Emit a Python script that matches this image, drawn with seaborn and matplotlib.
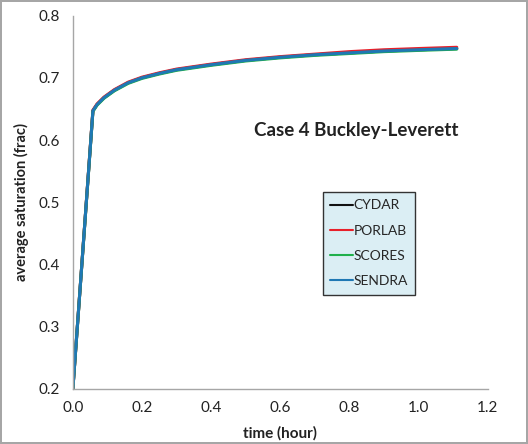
import matplotlib
matplotlib.use("Agg")
import matplotlib.pyplot as plt
import seaborn as sns
import pandas as pd

# time (hour) and average saturation for each simulator
time_h = [0.0, 0.058, 0.07, 0.09, 0.12, 0.16, 0.2, 0.25, 0.3, 0.4, 0.5,
          0.6, 0.7, 0.8, 0.9, 1.0, 1.11]
cydar = [0.2, 0.647, 0.657, 0.668, 0.680, 0.692, 0.700, 0.707, 0.713, 0.721,
         0.728, 0.733, 0.737, 0.740, 0.743, 0.745, 0.747]
porlab = [0.2, 0.648, 0.658, 0.669, 0.681, 0.693, 0.701, 0.708, 0.714, 0.722,
          0.729, 0.734, 0.738, 0.742, 0.745, 0.747, 0.749]
scores = [0.2, 0.646, 0.656, 0.667, 0.679, 0.691, 0.699, 0.706, 0.712, 0.720,
          0.727, 0.732, 0.736, 0.739, 0.742, 0.744, 0.746]
sendra = [0.2, 0.647, 0.657, 0.668, 0.680, 0.692, 0.700, 0.707, 0.713, 0.721,
          0.728, 0.733, 0.737, 0.740, 0.743, 0.745, 0.747]

series = {"CYDAR": cydar, "PORLAB": porlab, "SCORES": scores, "SENDRA": sendra}
colors = {"CYDAR": "#111111", "PORLAB": "#e8202a", "SCORES": "#20b04b", "SENDRA": "#1f78b4"}

df = pd.concat(
    [pd.DataFrame({"time": time_h, "sat": vals, "code": name}) for name, vals in series.items()],
    ignore_index=True,
)

sns.set_style("white")
plt.rcParams["font.family"] = ["Lato", "DejaVu Sans"]

fig = plt.figure(figsize=(5.28, 4.44), dpi=100)
fig.patch.set_edgecolor("#a6a6a6")
fig.patch.set_linewidth(1.5)
ax = fig.add_axes([0.138, 0.124, 0.786, 0.841])

sns.lineplot(data=df, x="time", y="sat", hue="code", palette=colors,
             linewidth=2.2, ax=ax, sort=False)

ax.set_xlim(0, 1.2)
ax.set_ylim(0.2, 0.8)
ax.set_xticks([0.0, 0.2, 0.4, 0.6, 0.8, 1.0, 1.2])
ax.set_xticklabels(["0.0", "0.2", "0.4", "0.6", "0.8", "1.0", "1.2"])
ax.set_yticks([0.2, 0.3, 0.4, 0.5, 0.6, 0.7, 0.8])
ax.set_yticklabels(["0.2", "0.3", "0.4", "0.5", "0.6", "0.7", "0.8"])
ax.tick_params(axis="both", direction="out", length=5, width=1, color="#a6a6a6",
               labelsize=11, labelcolor="#222222", pad=4)
for side in ["top", "right"]:
    ax.spines[side].set_visible(False)
for side in ["left", "bottom"]:
    ax.spines[side].set_color("#a6a6a6")
    ax.spines[side].set_linewidth(1)

ax.set_xlabel("time (hour)", fontsize=11, fontweight="bold", labelpad=8, color="#222222")
ax.set_ylabel("average saturation (frac)", fontsize=10.5, fontweight="bold", labelpad=7,
              color="#222222")

ax.text(0.818, 0.616, "Case 4 Buckley-Leverett", fontsize=13.5, fontweight="bold",
        ha="center", va="center", color="#222222")

leg = ax.legend(loc="upper left", bbox_to_anchor=(0.602, 0.528), frameon=True,
                fancybox=False, fontsize=10, handlelength=1.6, handletextpad=0.05,
                borderpad=0.55, labelspacing=0.95, borderaxespad=0)
leg.get_frame().set_facecolor("#dbeef4")
leg.get_frame().set_edgecolor("#333333")
leg.get_frame().set_alpha(1)
for line in leg.get_lines():
    line.set_linewidth(1.5)

fig.savefig("out.png", dpi=100, edgecolor=fig.get_edgecolor())
